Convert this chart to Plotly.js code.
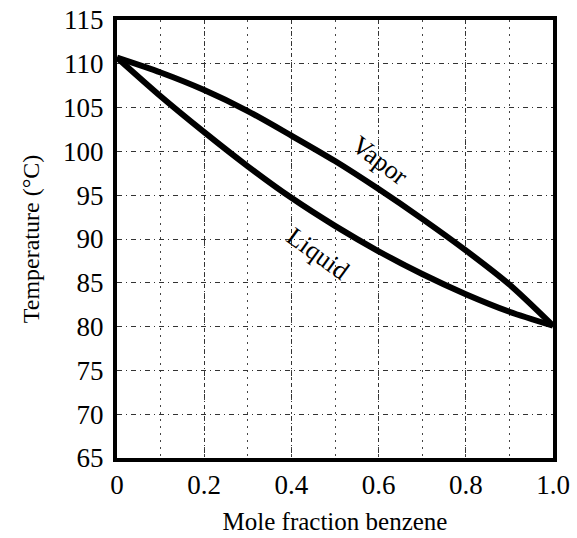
<!DOCTYPE html>
<html>
<head>
<meta charset="utf-8">
<script src="https://cdn.plot.ly/plotly-3.0.1.min.js"></script>
<style>html,body{margin:0;padding:0;background:#fff;}#chart{width:577px;height:538px;}</style>
</head>
<body>
<div id="chart"></div>
<script>
const liquidX = [0, 0.1, 0.2, 0.3, 0.4, 0.5, 0.6, 0.7, 0.8, 0.9, 1.0];
const liquidT = [110.7, 106.3, 102.2, 98.3, 94.7, 91.5, 88.6, 86.0, 83.7, 81.7, 80.1];
const vaporX = [0, 0.1, 0.2, 0.3, 0.4, 0.5, 0.6, 0.7, 0.8, 0.9, 1.0];
const vaporT = [110.7, 109.0, 107.0, 104.6, 101.8, 98.9, 95.7, 92.3, 88.7, 84.8, 80.1];
const xTickVals = [0, 0.2, 0.4, 0.6, 0.8, 1.0];
const xTickText = ["0", "0.2", "0.4", "0.6", "0.8", "1.0"];
const yTickVals = [65, 70, 75, 80, 85, 90, 95, 100, 105, 110, 115];
const labels = [
  {text: "Vapor", x: 0.603, y: 99.0, angle: 37},
  {text: "Liquid", x: 0.46, y: 88.3, angle: 36}
];

const serif = "Liberation Serif, Times New Roman, serif";
const traces = [
  {x: liquidX, y: liquidT, mode: "lines", line: {color: "#000", width: 6, shape: "spline", smoothing: 0.8}, name: "Liquid", hoverinfo: "skip"},
  {x: vaporX, y: vaporT, mode: "lines", line: {color: "#000", width: 6, shape: "spline", smoothing: 0.8}, name: "Vapor", hoverinfo: "skip"}
];
const layout = {
  width: 577, height: 538,
  margin: {l: 117, r: 24, t: 20, b: 80},
  paper_bgcolor: "#fff", plot_bgcolor: "#fff",
  showlegend: false,
  font: {family: serif, color: "#000"},
  xaxis: {
    range: [0, 1.0], tickvals: xTickVals, ticktext: xTickText,
    showline: true, linecolor: "#000", linewidth: 4, mirror: true,
    ticks: "", zeroline: false, ticklabelstandoff: 0,
    showgrid: true, gridcolor: "#333", gridwidth: 1, griddash: "4px,3px,1px,3px",
    minor: {dtick: 0.1, showgrid: true, gridcolor: "#444", gridwidth: 1, griddash: "2px,5px"},
    tickfont: {family: serif, size: 27, color: "#000"},
    title: {text: "Mole fraction benzene", font: {family: serif, size: 25, color: "#000"}, standoff: 14}
  },
  yaxis: {
    range: [65, 115], tickvals: yTickVals,
    showline: true, linecolor: "#000", linewidth: 4, mirror: true,
    ticks: "", zeroline: false, ticklabelstandoff: 4,
    showgrid: true, gridcolor: "#333", gridwidth: 1, griddash: "5px,4px,1px,4px",
    tickfont: {family: serif, size: 27, color: "#000"},
    title: {text: "Temperature (°C)", font: {family: serif, size: 24, color: "#000"}, standoff: 18}
  },
  annotations: labels.map(l => ({
    x: l.x, y: l.y, xref: "x", yref: "y", text: l.text, showarrow: false,
    textangle: l.angle, font: {family: serif, size: 26, color: "#000"}
  }))
};
Plotly.newPlot("chart", traces, layout, {displayModeBar: false, staticPlot: true});
</script>
</body>
</html>
